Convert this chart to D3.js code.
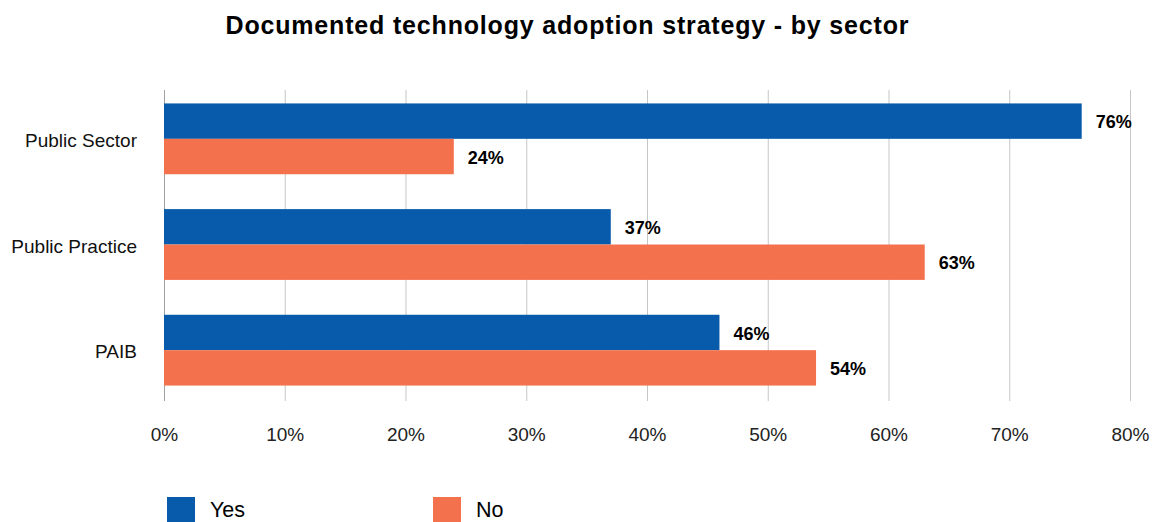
<!DOCTYPE html>
<html>
<head>
<meta charset="utf-8">
<script src="https://cdn.jsdelivr.net/npm/d3@7"></script>
<style>
  html, body { margin: 0; padding: 0; background: #fff; }
  svg { display: block; font-family: "Liberation Sans", Arial, sans-serif; }
</style>
</head>
<body>
<svg id="chart" width="1161" height="522"></svg>
<script>
// Sectors and share of respondents with a documented technology adoption strategy
const sectors = ["Public Sector", "Public Practice", "PAIB"];
const seriesNames = ["Yes", "No"];
const yesValues = [76, 37, 46];
const noValues = [24, 63, 54];
const xTicks = [0, 10, 20, 30, 40, 50, 60, 70, 80];
const seriesColors = ["#085BAA", "#F4714D"];

const svg = d3.select("#chart");

const plot = { left: 164, right: 1130, top: 90, bottom: 401 };

const x = d3.scaleLinear().domain([0, 80]).range([plot.left, plot.right]);

const y = d3.scaleBand()
  .domain(sectors)
  .range([86, 403])
  .paddingInner(0.33)
  .paddingOuter(0.165);

const ySeries = d3.scaleBand()
  .domain(seriesNames)
  .range([0, y.bandwidth()]);

const color = d3.scaleOrdinal().domain(seriesNames).range(seriesColors);

const rows = sectors.map((s, i) => ({ sector: s, values: [
  { key: "Yes", value: yesValues[i] },
  { key: "No", value: noValues[i] }
]}));

// Title
svg.append("text")
  .attr("x", 567)
  .attr("y", 34)
  .attr("text-anchor", "middle")
  .attr("font-size", 25)
  .attr("font-weight", "bold")
  .attr("fill", "#000")
  .attr("textLength", 683)
  .attr("lengthAdjust", "spacing")
  .text("Documented technology adoption strategy - by sector");

// Vertical gridlines
svg.append("g")
  .selectAll("line")
  .data(xTicks)
  .join("line")
  .attr("x1", d => x(d) + 0.5)
  .attr("x2", d => x(d) + 0.5)
  .attr("y1", plot.top)
  .attr("y2", plot.bottom)
  .attr("stroke", d => d === 0 ? "#a0a0a0" : "#c6c6c6")
  .attr("stroke-width", 1);

// X axis labels
const xAxis = d3.axisBottom(x)
  .tickValues(xTicks)
  .tickFormat(d => d + "%")
  .tickSize(0)
  .tickPadding(0);

const xg = svg.append("g")
  .attr("transform", `translate(0, 0)`)
  .call(xAxis);
xg.select(".domain").remove();
xg.selectAll("text")
  .attr("y", 441)
  .attr("dy", null)
  .attr("font-size", 19)
  .attr("font-family", "Liberation Sans, Arial, sans-serif")
  .attr("fill", "#222");

// Category labels
const yAxis = d3.axisLeft(y).tickSize(0).tickPadding(0);
const yg = svg.append("g")
  .attr("transform", `translate(137, 2)`)
  .call(yAxis);
yg.select(".domain").remove();
yg.selectAll("text")
  .attr("font-size", 19)
  .attr("font-family", "Liberation Sans, Arial, sans-serif")
  .attr("fill", "#111");

// Bars
const groups = svg.append("g")
  .selectAll("g")
  .data(rows)
  .join("g")
  .attr("transform", d => `translate(0, ${y(d.sector)})`);

groups.selectAll("rect")
  .data(d => d.values)
  .join("rect")
  .attr("x", x(0))
  .attr("y", d => ySeries(d.key))
  .attr("width", d => x(d.value) - x(0))
  .attr("height", ySeries.bandwidth())
  .attr("fill", d => color(d.key));

// Value labels
groups.selectAll("text.value")
  .data(d => d.values)
  .join("text")
  .attr("class", "value")
  .attr("x", d => x(d.value) + 14)
  .attr("y", d => ySeries(d.key) + ySeries.bandwidth() / 2 + 1)
  .attr("dy", "0.35em")
  .attr("font-size", 18)
  .attr("font-weight", "bold")
  .attr("fill", "#000")
  .text(d => d.value + "%");

// Legend
const legendX = [167, 433];
const legend = svg.append("g")
  .selectAll("g")
  .data(seriesNames)
  .join("g")
  .attr("transform", (d, i) => `translate(${legendX[i]}, 497)`);

legend.append("rect")
  .attr("width", 28)
  .attr("height", 28)
  .attr("fill", d => color(d));

legend.append("text")
  .attr("x", 43)
  .attr("y", 20)
  .attr("font-size", 21.5)
  .attr("fill", "#000")
  .text(d => d);
</script>
</body>
</html>
